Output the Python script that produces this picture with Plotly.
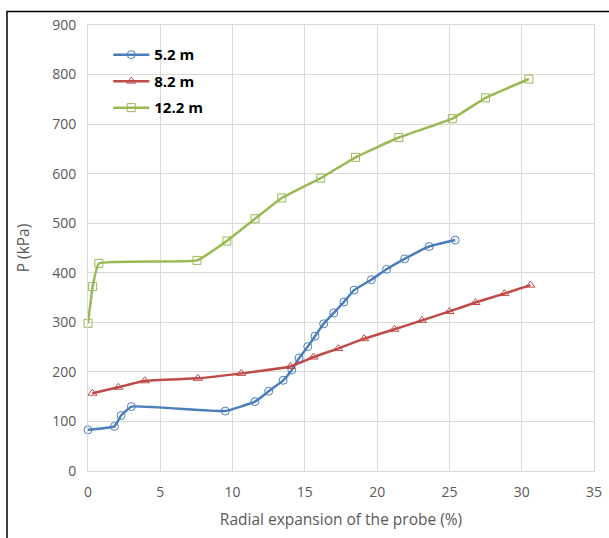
import plotly.graph_objects as go

# 5.2 m
x52 = [0, 1.83, 2.29, 3.0, 9.5, 11.55, 12.5, 13.5, 14.1, 14.6, 15.2, 15.7, 16.3, 17.0, 17.7, 18.4, 19.6, 20.65, 21.9, 23.6, 25.4]
y52 = [83, 90, 112, 130, 121, 140, 161, 183, 204, 228, 251, 272, 297, 319, 341, 365, 386, 407, 428, 453, 466]
# 8.2 m
x82 = [0.3, 2.1, 3.93, 7.6, 10.6, 14.0, 15.6, 17.3, 19.1, 21.2, 23.1, 25.0, 26.8, 28.8, 30.6]
y82 = [157, 169, 182, 187, 197, 211, 230, 247, 267, 286, 304, 322, 340, 358, 375]
# 12.2 m
x122 = [0, 0.32, 0.75, 7.54, 9.6, 11.55, 13.4, 16.1, 18.5, 21.5, 25.2, 27.5, 30.5]
y122 = [298, 372, 419, 425, 464, 509, 551, 591, 633, 673, 711, 753, 791]

x_ticks = [0, 5, 10, 15, 20, 25, 30, 35]
y_ticks = [0, 100, 200, 300, 400, 500, 600, 700, 800, 900]

series = [
    ("5.2 m", x52, y52, "#4A7EBB", "circle-open"),
    ("8.2 m", x82, y82, "#BE4B48", "triangle-up-open"),
    ("12.2 m", x122, y122, "#98B954", "square-open"),
]

fig = go.Figure()
for name, xs, ys, col, sym in series:
    fig.add_trace(go.Scatter(
        x=xs, y=ys, name=name, mode="lines+markers", legendgroup=name,
        line=dict(color=col, width=2.5, shape="spline", smoothing=0.3),
        marker=dict(symbol=sym, size=8, color=col, line=dict(width=1, color=col)),
        cliponaxis=False,
    ))

L, R, T, B = 88, 15, 25, 67
W, H = 609, 538
pw, ph = W - L - R, H - T - B

fig.update_layout(
    width=W, height=H,
    margin=dict(l=L, r=R, t=T, b=B, autoexpand=False),
    paper_bgcolor="white", plot_bgcolor="white",
    font=dict(family="Open Sans, Noto Sans, sans-serif", color="#595959", size=13),
    showlegend=True,
    legend=dict(x=0.04, y=0.97, xanchor="left", yanchor="top", traceorder="grouped",
                bgcolor="rgba(0,0,0,0)", tracegroupgap=4, itemwidth=36,
                font=dict(size=15, color="#000000", family="Open Sans, sans-serif", weight="bold")),
    xaxis=dict(range=[0, 35], tickvals=x_ticks, showgrid=True, gridcolor="#D9D9D9",
               zeroline=False, showline=True, linecolor="#D9D9D9", linewidth=1, mirror=True,
               ticks="", tickfont=dict(size=14, color="#595959"), ticklabelstandoff=8, automargin=False,
               title=dict(text="Radial expansion of the probe (%)", font=dict(size=15.5, color="#595959"), standoff=14)),
    yaxis=dict(range=[0, 900], tickvals=y_ticks, showgrid=True, gridcolor="#D9D9D9",
               zeroline=False, showline=True, linecolor="#D9D9D9", linewidth=1, mirror=True,
               ticks="", tickfont=dict(size=14, color="#595959"), ticklabelstandoff=8, automargin=False,
               title=dict(text="P (kPa)", font=dict(size=15.5, color="#595959"), standoff=18)),
    shapes=[dict(type="rect", xref="paper", yref="paper",
                 x0=(7 - L) / pw, x1=1 + 30 / pw,
                 y0=-(B + 30) / ph, y1=1 + (T - 11.5) / ph,
                 line=dict(color="black", width=1.5), fillcolor="rgba(0,0,0,0)", layer="below")],
)

fig.write_html("out.html", config={"displayModeBar": False},
               post_script="document.body.style.margin='0';document.body.style.overflow='hidden';")
